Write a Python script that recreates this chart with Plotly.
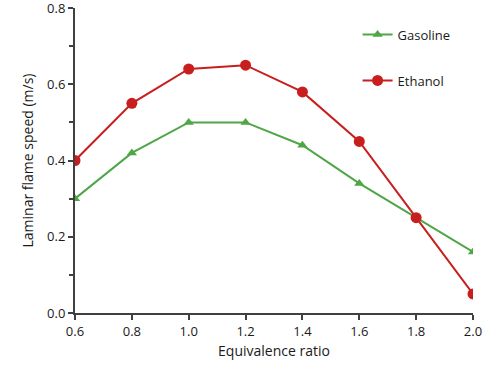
import plotly.graph_objects as go

phi = [0.6, 0.8, 1.0, 1.2, 1.4, 1.6, 1.8, 2.0]
gasoline = [0.30, 0.42, 0.50, 0.50, 0.44, 0.34, 0.25, 0.16]
ethanol = [0.40, 0.55, 0.64, 0.65, 0.58, 0.45, 0.25, 0.05]
x_ticks = [0.6, 0.8, 1.0, 1.2, 1.4, 1.6, 1.8, 2.0]
y_ticks = [0.0, 0.2, 0.4, 0.6, 0.8]

GREEN = "#4ea647"
RED = "#c81e1e"
FONT = "Open Sans, Liberation Sans, sans-serif"

fig = go.Figure()
fig.add_trace(go.Scatter(
    x=phi, y=gasoline, name="Gasoline", mode="lines+markers",
    line=dict(color=GREEN, width=2),
    marker=dict(symbol="triangle-up", size=9, color=GREEN),
    legendgroup="g",
))
fig.add_trace(go.Scatter(
    x=phi, y=ethanol, name="Ethanol", mode="lines+markers",
    line=dict(color=RED, width=2),
    marker=dict(symbol="circle", size=11, color=RED),
    legendgroup="e",
))

fig.update_layout(
    width=500, height=371,
    margin=dict(l=75, r=27, t=8, b=58),
    paper_bgcolor="white", plot_bgcolor="white",
    font=dict(family=FONT, size=13, color="#1a1a1a"),
    showlegend=True,
    legend=dict(
        x=0.71, y=0.962, xanchor="left", yanchor="top",
        bgcolor="rgba(0,0,0,0)", tracegroupgap=26,
        font=dict(size=13, color="#1a1a1a"),
        itemwidth=30,
    ),
    xaxis=dict(
        range=[0.6, 2.0], tickvals=x_ticks,
        ticktext=[f"{v:.1f}" for v in x_ticks],
        showgrid=False, zeroline=False, automargin=False,
        ticklabeloverflow="allow",
        showline=True, linecolor="#404040", linewidth=2,
        ticks="outside", ticklen=5, tickwidth=1.5, tickcolor="#404040",
        title=dict(text="Equivalence ratio", standoff=8, font=dict(size=14)),
    ),
    yaxis=dict(
        range=[0, 0.8], tickvals=y_ticks,
        ticktext=[f"{v:.1f}" for v in y_ticks],
        showgrid=False, zeroline=False, automargin=False,
        ticklabeloverflow="allow",
        showline=True, linecolor="#404040", linewidth=2,
        ticks="outside", ticklen=5, tickwidth=1.5, tickcolor="#404040",
        minor=dict(dtick=0.1, ticks="outside", ticklen=4, tickcolor="#404040", showgrid=False),
        title=dict(text="Laminar flame speed (m/s)", standoff=10, font=dict(size=14)),
    ),
)

fig.write_html(
    "out.html",
    config={"displayModeBar": False},
    post_script="document.body.style.margin='0';",
)
